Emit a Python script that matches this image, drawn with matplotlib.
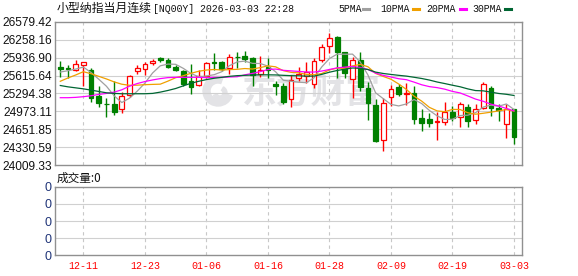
import matplotlib
matplotlib.use('Agg')
import matplotlib.pyplot as plt
from matplotlib.lines import Line2D
from matplotlib.patches import Wedge
from matplotlib.transforms import IdentityTransform
import numpy as np

plt.rcParams['font.family'] = ['Liberation Sans', 'Noto Sans CJK SC', 'DejaVu Sans']

# trading days shown on the chart
dates = ['12-08', '12-09', '12-10', '12-11', '12-12', '12-15', '12-16', '12-17', '12-18', '12-19',
         '12-22', '12-23', '12-24', '12-26', '12-29', '12-30', '12-31', '01-02', '01-05', '01-06',
         '01-07', '01-08', '01-09', '01-12', '01-13', '01-14', '01-15', '01-16', '01-19', '01-20',
         '01-21', '01-22', '01-23', '01-26', '01-27', '01-28', '01-29', '01-30', '02-02', '02-03',
         '02-04', '02-05', '02-06', '02-09', '02-10', '02-11', '02-12', '02-13', '02-16', '02-17',
         '02-18', '02-19', '02-20', '02-23', '02-24', '02-25', '02-26', '02-27', '03-02', '03-03']

opens = [25775, 25751, 25722, 25798, 25716, 25242, 25112, 25112, 25018, 25260,
         25692, 25733, 25840, 25929, 25893, 25763, 25704, 25514, 25444, 25615,
         25852, 25869, 25751, 25958, 25976, 25940, 25645, 25763, 25467, 25426,
         25189, 25574, 25603, 25467, 25893, 26153, 26313, 26035, 25556, 25899,
         25396, 25083, 24450, 25231, 25408, 25290, 25296, 24852, 24834, 24775,
         24787, 24964, 24864, 25059, 24822, 25041, 25402, 25041, 24745, 25023]
highs = [25887, 25810, 25899, 25869, 25751, 25438, 25219, 25515, 25325, 25621,
         25810, 25852, 25911, 25952, 25940, 25810, 25722, 25822, 25722, 25852,
         26029, 25881, 26010, 26035, 26059, 25946, 25970, 25929, 25514, 25485,
         25621, 25763, 25869, 25940, 26177, 26390, 26331, 26035, 25958, 26047,
         25497, 25189, 25219, 25455, 25467, 25485, 25438, 25012, 24947, 24970,
         25148, 25065, 25148, 25112, 25100, 25503, 25438, 25112, 25112, 25023]
lows = [25591, 25574, 25692, 25426, 25142, 25053, 24864, 24911, 24935, 25231,
        25650, 25633, 25810, 25869, 25751, 25692, 25438, 25278, 25426, 25574,
        25722, 25692, 25645, 25751, 25869, 25438, 25586, 25574, 25260, 25112,
        25053, 25514, 25485, 25396, 25869, 26017, 25574, 25574, 25219, 25337,
        24816, 24420, 24260, 25071, 25248, 25089, 24745, 24615, 24698, 24461,
        24734, 24805, 24698, 24698, 24745, 25012, 24893, 24805, 24497, 24390]
closes = [25727, 25733, 25822, 25858, 25219, 25124, 25100, 24964, 25254, 25615,
          25745, 25828, 25875, 25899, 25769, 25722, 25467, 25408, 25609, 25840,
          25834, 25739, 25952, 25946, 25911, 25633, 25722, 25722, 25438, 25148,
          25538, 25645, 25674, 25881, 26124, 26284, 26047, 25662, 25893, 25420,
          25124, 24438, 25130, 25384, 25278, 25302, 24834, 24769, 24769, 24793,
          24970, 24858, 25100, 24805, 25018, 25467, 25041, 24994, 25012, 24521]

ma5 = [25680, 25704, 25733, 25769, 25672, 25551, 25425, 25253, 25132, 25211,
       25336, 25481, 25663, 25792, 25823, 25819, 25746, 25653, 25595, 25609,
       25632, 25686, 25795, 25862, 25876, 25836, 25833, 25787, 25685, 25533,
       25514, 25498, 25489, 25577, 25772, 25922, 26002, 26000, 26002, 25861,
       25629, 25307, 25201, 25099, 25071, 25106, 25186, 25113, 24990, 24893,
       24827, 24832, 24898, 24905, 24950, 25050, 25086, 25065, 25106, 25007]
ma10 = [25514, 25574, 25627, 25686, 25650, 25603, 25556, 25503, 25461, 25442,
        25444, 25453, 25458, 25462, 25517, 25578, 25614, 25658, 25694, 25716,
        25726, 25716, 25724, 25729, 25743, 25734, 25760, 25791, 25774, 25705,
        25675, 25666, 25638, 25631, 25653, 25718, 25750, 25745, 25790, 25817,
        25776, 25655, 25601, 25551, 25466, 25368, 25247, 25157, 25045, 24982,
        24967, 25009, 25006, 24948, 24922, 24939, 24959, 24982, 25006, 24979]
ma20 = [25219, 25219, 25225, 25237, 25254, 25278, 25296, 25319, 25361, 25426,
        25473, 25509, 25538, 25562, 25580, 25585, 25585, 25585, 25585, 25579,
        25585, 25585, 25591, 25596, 25630, 25656, 25687, 25725, 25734, 25711,
        25701, 25691, 25681, 25680, 25698, 25726, 25755, 25768, 25782, 25761,
        25726, 25661, 25620, 25591, 25560, 25543, 25499, 25451, 25418, 25400,
        25372, 25332, 25304, 25250, 25194, 25154, 25103, 25070, 25026, 24981]
ma30 = [25438, 25414, 25396, 25378, 25355, 25331, 25307, 25296, 25290, 25290,
        25290, 25290, 25296, 25319, 25349, 25384, 25432, 25479, 25514, 25544,
        25568, 25585, 25603, 25615, 25621, 25627, 25630, 25630, 25628, 25621,
        25615, 25612, 25607, 25607, 25638, 25677, 25708, 25731, 25753, 25746,
        25726, 25679, 25654, 25637, 25621, 25607, 25586, 25564, 25536, 25501,
        25473, 25443, 25415, 25377, 25347, 25342, 25319, 25295, 25280, 25259]

tick_dates = ['12-11', '12-23', '01-06', '01-16', '01-28', '02-09', '02-19', '03-03']
price_ticks = [24009.33, 24330.59, 24651.85, 24973.11, 25294.38,
               25615.64, 25936.90, 26258.16, 26579.42]
vol_ticks = [0, 1, 2, 3, 4]
vol_labels = ['0', '0', '0', '0', '0']

ma_names = ['5PMA', '10PMA', '20PMA', '30PMA']
ma_colors = ['#a0a0a0', '#f0a000', '#ff00ff', '#006633']

W, H = 578, 276
fig = plt.figure(figsize=(W / 100, H / 100), dpi=100)
ax = fig.add_axes([55.3 / W, 1 - 165 / H, 467 / W, 143 / H])
axv = fig.add_axes([55.3 / W, 1 - 255.3 / H, 467 / W, 68.6 / H])

x = np.arange(len(closes))
o = np.array(opens)
c = np.array(closes)
up = c >= o
edge = np.where(up, '#ff0000', '#008000')
face = np.where(up, '#ffffff', '#008000')

tick_pos = [dates.index(d) for d in tick_dates]

for a in (ax, axv):
    a.set_xlim(-0.65, 60.08)
    for s in a.spines.values():
        s.set_color('#909090')
        s.set_linewidth(1.0)
    for p in tick_pos:
        a.axvline(p, color='#c8c8c8', lw=0.8, ls=(0, (3, 3)), zorder=0)

# watermark (logo + name)
ax.text(0.548, 0.51, '东方财富', transform=ax.transAxes, ha='center', va='center',
        fontsize=25, fontweight='bold', color='#e3e3e6', family=['Noto Sans CJK SC'], zorder=0)
ax.add_patch(Wedge((218, H - 91), 15, 70, 340, width=7, transform=IdentityTransform(),
                   color='#e3e3e6', zorder=0))
ax.add_patch(Wedge((220, H - 93), 7, 200, 420, width=4, transform=IdentityTransform(),
                   color='#e3e3e6', zorder=0))

for v in price_ticks[1:-1]:
    ax.axhline(v, color='#d0d0d0', lw=0.8, zorder=0)

ax.vlines(x, lows, highs, colors=edge, lw=1.0, zorder=2)
ax.bar(x, np.abs(c - o), bottom=np.minimum(o, c), width=0.62, color=face,
       edgecolor=edge, linewidth=0.9, zorder=3)

for ma, col in zip([ma5, ma10, ma20, ma30], ma_colors):
    ax.plot(x, ma, color=col, lw=0.9, zorder=4)

ax.set_ylim(price_ticks[0], price_ticks[-1])
ax.set_yticks(price_ticks)
ax.set_yticklabels(['%.2f' % v for v in price_ticks])
ax.tick_params(axis='y', length=0, pad=2.5, labelsize=8.6, labelcolor='#111111')
ax.set_xticks([])

axv.set_ylim(0, 4)
axv.set_yticks(vol_ticks)
axv.set_yticklabels(vol_labels)
for v in vol_ticks[1:-1]:
    axv.axhline(v, color='#d0d0d0', lw=0.8, zorder=0)
axv.tick_params(axis='y', length=0, pad=3, labelsize=9, labelcolor='#1f3478')
axv.set_xticks(tick_pos)
axv.set_xticklabels(tick_dates)
axv.tick_params(axis='x', length=0, pad=4, labelsize=7.2, labelcolor='#ff0000')
for lab in axv.get_xticklabels():
    lab.set_family('Liberation Mono')

# title
fig.text(57 / W, 1 - 8.5 / H, '小型纳指当月连续', family=['Noto Sans CJK SC'],
         fontsize=8.6, va='center', ha='left', color='#111111')
fig.text(153 / W, 1 - 8.5 / H, '[NQ00Y] 2026-03-03 22:28', family=['Liberation Mono'],
         fontsize=7.1, va='center', ha='left', color='#111111')

# legend
leg_x = [338, 380, 426, 472]
mark_x = [363, 413, 460, 505]
for name, col, tx, mx in zip(ma_names, ma_colors, leg_x, mark_x):
    fig.text(tx / W, 1 - 9 / H, name, family=['Liberation Mono'], fontsize=7.1,
             va='center', ha='left', color='#111111')
    fig.add_artist(Line2D([mx / W, (mx + 6) / W], [1 - 8.5 / H, 1 - 8.5 / H],
                          transform=fig.transFigure, color=col, lw=2.2))

fig.text(57 / W, 1 - 178.3 / H, '成交量:0', family=['Noto Sans CJK SC'],
         fontsize=8.4, va='center', ha='left', color='#111111')

fig.savefig('out.png', dpi=100)
